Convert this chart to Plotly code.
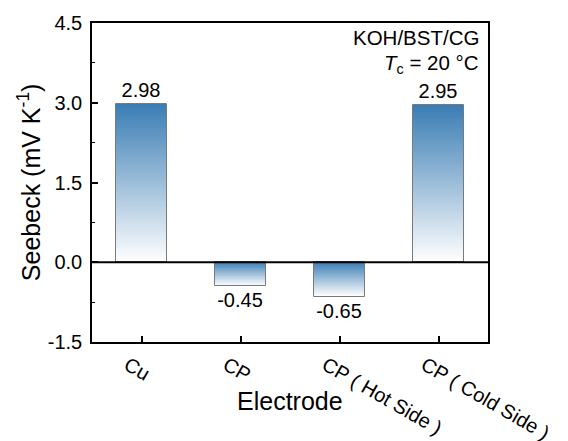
import plotly.graph_objects as go

categories = ["Cu", "CP", "CP ( Hot Side )", "CP ( Cold Side )"]
seebeck = [2.98, -0.45, -0.65, 2.95]
labels = ["2.98", "-0.45", "-0.65", "2.95"]
y_ticks = [-1.5, 0.0, 1.5, 3.0, 4.5]
y_ticktext = ["-1.5", "0.0", "1.5", "3.0", "4.5"]

TOP = (58, 125, 180)
BOT = (255, 255, 255)
N = 90
BAR_W = 0.52


def mix(t):
    r, g, b = (round(BOT[k] + (TOP[k] - BOT[k]) * t) for k in range(3))
    return f"rgb({r},{g},{b})"


xs = list(range(len(categories)))
seg_x, seg_base, seg_h, seg_c = [], [], [], []
for i, v in enumerate(seebeck):
    step = v / N
    for j in range(N):
        seg_x.append(xs[i])
        seg_base.append(step * j)
        seg_h.append(step * 1.15)
        frac = (j + 0.5) / N
        t = frac if v >= 0 else 1 - frac
        seg_c.append(mix(t))

FONT = "Liberation Sans, Arial"

fig = go.Figure()
fig.add_trace(go.Bar(
    x=seg_x, y=seg_h, base=seg_base, width=BAR_W,
    marker=dict(color=seg_c, line=dict(width=0)),
    hoverinfo="skip", showlegend=False,
))
fig.add_trace(go.Bar(
    x=xs, y=seebeck, width=BAR_W,
    marker=dict(color="rgba(0,0,0,0)", line=dict(color="#7a7a7a", width=1)),
    text=labels, textposition="outside", cliponaxis=False,
    textfont=dict(family=FONT, size=20, color="black"),
    showlegend=False,
))

fig.add_shape(type="line", xref="paper", x0=0, x1=1, yref="y", y0=0, y1=0,
              line=dict(color="black", width=2), layer="above")

fig.update_layout(
    width=568, height=441,
    margin=dict(l=92, r=80, t=23, b=99, autoexpand=False),
    paper_bgcolor="white", plot_bgcolor="white",
    barmode="overlay", bargap=0,
    font=dict(family=FONT, size=18, color="black"),
    xaxis=dict(
        range=[-0.5, 3.5], tickvals=xs, ticktext=categories, tickangle=30,
        ticks="inside", ticklen=6, tickwidth=1.5, tickcolor="black",
        showline=True, linecolor="black", linewidth=1.5, mirror=True,
        showgrid=False, zeroline=False, automargin=False,
        tickfont=dict(size=20), ticklabelshift=-14, ticklabelstandoff=2,
    ),
    yaxis=dict(
        range=[-1.5, 4.5], tickvals=y_ticks, ticktext=y_ticktext,
        ticks="inside", ticklen=6, tickwidth=1.5, tickcolor="black",
        minor=dict(dtick=0.75, tick0=0, ticks="inside", ticklen=3, tickcolor="black", tickwidth=1),
        showline=True, linecolor="black", linewidth=1.5, mirror=True,
        showgrid=False, zeroline=False, automargin=False,
        tickfont=dict(size=20), ticklabelstandoff=4,
    ),
    annotations=[
        dict(text="Electrode", xref="paper", yref="paper", x=0.5, y=-0.185,
             xanchor="center", yanchor="middle", showarrow=False, font=dict(size=25)),
        dict(text="Seebeck (mV K<sup>-1</sup>)", xref="paper", yref="paper", x=-0.16, y=0.5,
             textangle=-90, xanchor="center", yanchor="middle", showarrow=False, font=dict(size=25)),
        dict(text="KOH/BST/CG", xref="paper", yref="paper", x=0.982, y=0.955,
             xanchor="right", yanchor="middle", showarrow=False, font=dict(size=20.5)),
        dict(text="<i>T</i><sub>c</sub> = 20 °C", xref="paper", yref="paper", x=0.982, y=0.872,
             xanchor="right", yanchor="middle", showarrow=False, font=dict(size=20.5)),
    ],
)

fig.write_html("out.html")
